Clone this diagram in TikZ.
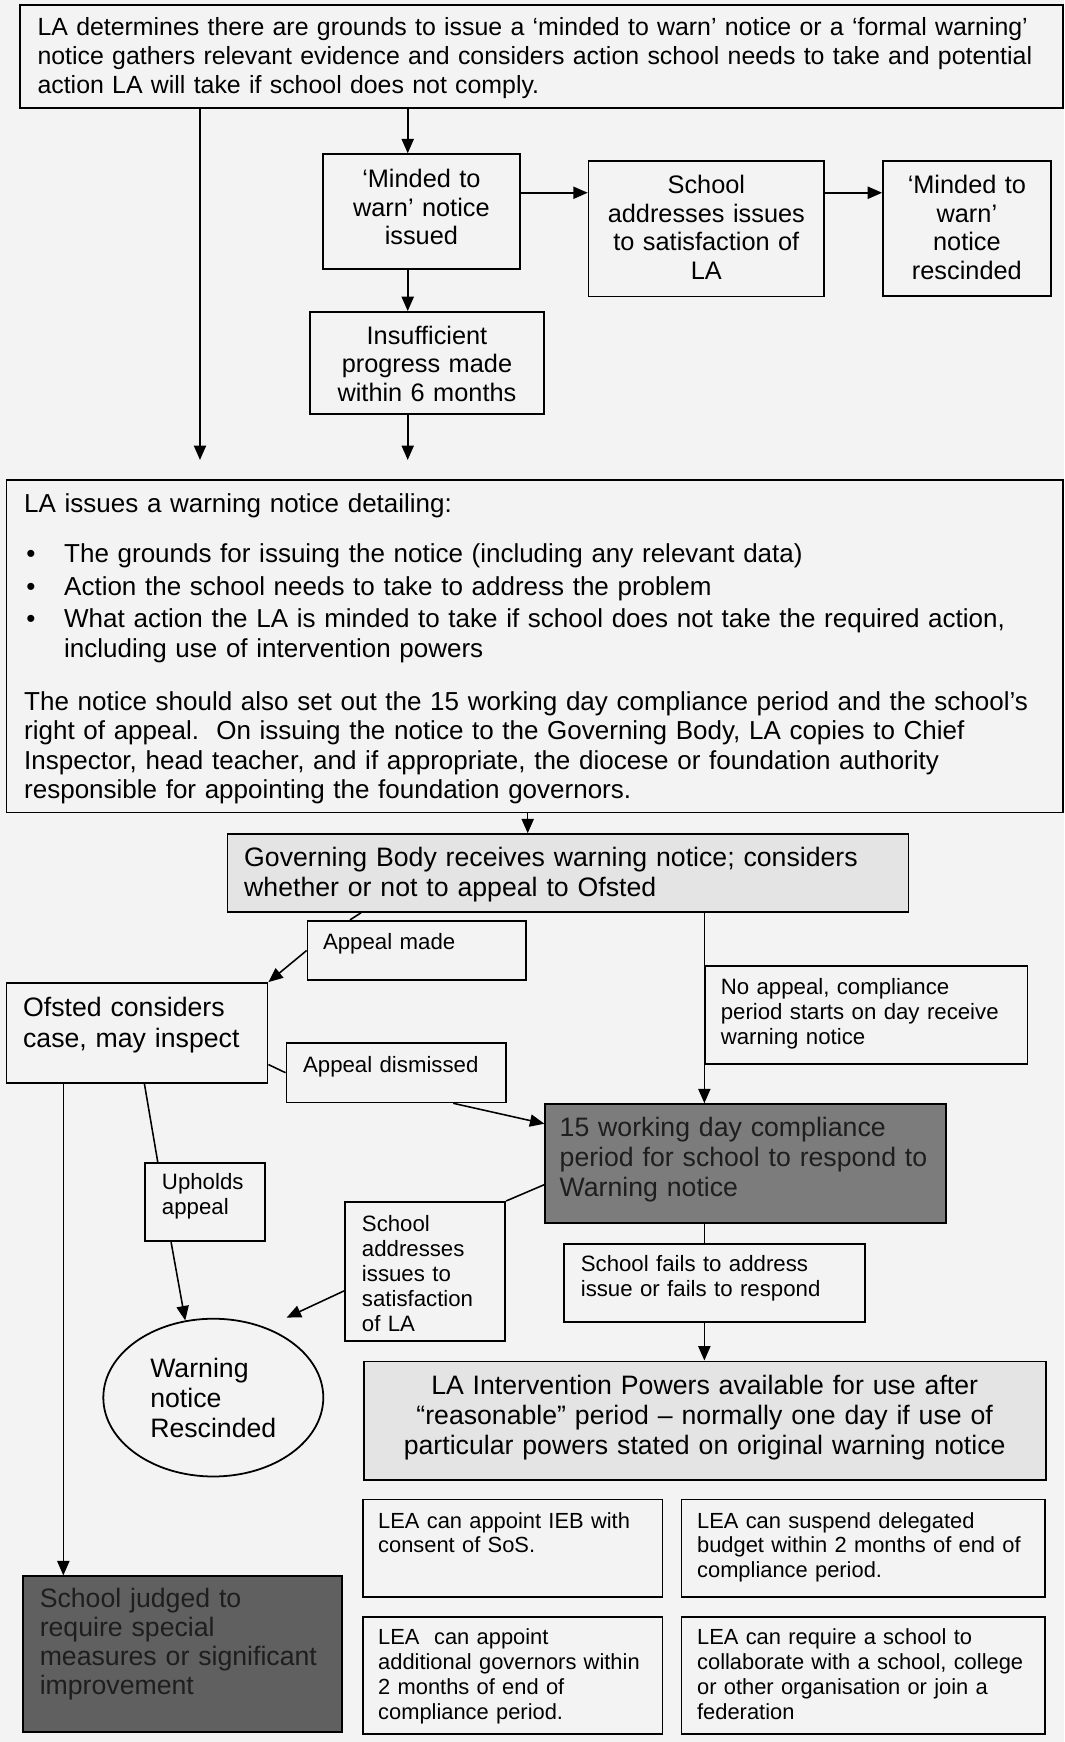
\documentclass[tikz,border=0pt]{standalone}
\usepackage{fontspec}
\setmainfont{Liberation Sans}
\usepackage{xcolor}
\usepackage{tikz}
\usetikzlibrary{arrows.meta,shapes.geometric}
\definecolor{PaperGrey}{HTML}{F3F3F3}
\definecolor{ShadeLight}{HTML}{E4E4E4}
\definecolor{ShadeDark}{HTML}{7C7C7C}
\definecolor{ShadeDeep}{HTML}{606060}
\definecolor{InkDark}{HTML}{1E1E1E}
\newcommand\fsm{\fontsize{20}{22.5}\selectfont}
\newcommand\fmd{\fontsize{22.8}{25.7}\selectfont}
\newcommand\flg{\fontsize{24}{27}\selectfont}
\newcommand\flea{\fontsize{19.7}{22.4}\selectfont}
\newcommand\bul{\makebox[36pt][l]{\hspace{2pt}\textbullet}}

\begin{document}
\begin{tikzpicture}[
  x=1pt, y=-1pt,
  box/.style={draw, line width=1.6pt, anchor=north west, align=left, inner ysep=0pt,
    execute at begin node={\rightskip=0pt minus 60pt\relax}},
  mid/.style={draw, line width=1.6pt, anchor=north west, align=center, inner ysep=0pt, inner xsep=10pt, font=\fmd},
  oval/.style={draw, ellipse, line width=1.6pt, align=left, inner sep=0pt},
  arrow/.style={-{Triangle[length=13pt,width=11pt]}, line width=1.4pt},
  link/.style={line width=1.4pt}
]
\path[use as bounding box, fill=PaperGrey] (0,0) rectangle (958,1568);

\node[box, font=\fontsize{22.4}{25.7}\selectfont, text width=907pt, inner xsep=16pt, text height=28pt, text depth=65pt] (top) at (17,3.6)
  {LA determines there are grounds to issue a ‘minded to warn’ notice or a ‘formal warning’\\notice gathers relevant evidence and considers action school needs to take and potential\\action LA will take if school does not comply.};
\node[mid, text width=157pt, text height=30pt, text depth=73.6pt] (minded) at (290,138)
  {‘Minded to\\warn’ notice\\issued};
\node[mid, text width=192pt, text height=29.5pt, text depth=92.5pt] (fixed) at (529,144)
  {School\\addresses issues\\to satisfaction of\\LA};
\node[mid, text width=131pt, text height=29.5pt, text depth=92pt] (withdrawn) at (794,144)
  {‘Minded to\\warn’\\notice\\rescinded};
\node[mid, text width=191pt, text height=29pt, text depth=63pt] (slow) at (278,280)
  {Insufficient\\progress made\\within 6 months};

\node[box, font=\fontsize{23.4}{26.5}\selectfont, text width=919pt, inner xsep=16pt, text height=29.6pt, text depth=270pt] (notice) at (5,431)
  {LA issues a warning notice detailing:\\[18.5pt]
   \bul The grounds for issuing the notice (including any relevant data)\\[3.5pt]
   \bul Action the school needs to take to address the problem\\[2pt]
   \bul What action the LA is minded to take if school does not take the required action,\\
   \hspace*{36pt}including use of intervention powers\\[21.5pt]
   The notice should also set out the 15 working day compliance period and the school’s\\
   right of appeal.\ \ On issuing the notice to the Governing Body, LA copies to Chief\\
   Inspector, head teacher, and if appropriate, the diocese or foundation authority\\
   responsible for appointing the foundation governors.};

\node[box, fill=ShadeLight, font=\flg, text width=583pt, inner xsep=15pt, text height=28.8pt, text depth=41.2pt] (gov) at (204,750)
  {Governing Body receives warning notice; considers\\whether or not to appeal to Ofsted};
\node[box, font=\fsm, text width=169pt, inner xsep=14pt, text height=26pt, text depth=27.5pt] (appeal) at (276,828)
  {Appeal made};
\node[box, font=\fontsize{24}{28.5}\selectfont, text width=205pt, inner xsep=15pt, text height=30pt, text depth=60pt] (ofsted) at (5,884)
  {Ofsted considers\\case, may inspect};
\node[box, font=\fsm, text width=168pt, inner xsep=15pt, text height=26.5pt, text depth=27pt] (dismissed) at (257,938)
  {Appeal dismissed};
\node[box, font=\fsm, text width=262pt, inner xsep=14pt, text height=25.5pt, text depth=62.5pt] (noappeal) at (634,869)
  {No appeal, compliance\\period starts on day receive\\warning notice};
\node[box, fill=ShadeDark, text=InkDark, font=\flg, text width=335pt, inner xsep=13pt, text height=29pt, text depth=78pt] (comply) at (490,993)
  {15 working day compliance\\period for school to respond to\\Warning notice};
\node[box, font=\fsm, text width=114pt, inner xsep=15pt, text height=26.5pt, text depth=98.5pt] (sorted) at (310,1081)
  {School\\addresses\\issues to\\satisfaction\\of LA};
\node[box, font=\fsm, text width=78pt, inner xsep=15pt, text height=24pt, text depth=46.5pt] (upheld) at (130,1046)
  {Upholds\\appeal};
\node[oval, font=\flg, minimum width=198pt, minimum height=142pt] (rescind) at (192,1258)
  {Warning\\notice\\Rescinded};
\node[box, font=\fsm, text width=241pt, inner xsep=15pt, text height=25.4pt, text depth=45pt] (fails) at (507,1118.6)
  {School fails to address\\issue or fails to respond};
\node[mid, fill=ShadeLight, font=\flg, text width=594pt, text height=30pt, text depth=77pt] (powers) at (326.5,1224.6)
  {LA Intervention Powers available for use after\\“reasonable” period – normally one day if use of\\particular powers stated on original warning notice};
\node[box, fill=ShadeDeep, text=InkDark, font=\fontsize{24}{26}\selectfont, text width=257pt, inner xsep=15pt, text height=28.5pt, text depth=112pt] (judged) at (20,1418)
  {School judged to\\require special\\measures or significant\\improvement};
\node[box, font=\flea, text width=242pt, inner xsep=14pt, text height=25.6pt, text depth=62.4pt] (ieb) at (325.6,1349)
  {LEA can appoint IEB with\\consent of SoS.};
\node[box, font=\flea, text width=299pt, inner xsep=14pt, text height=25.6pt, text depth=62.4pt] (budget) at (612.7,1349)
  {LEA can suspend delegated\\budget within 2 months of end of\\compliance period.};
\node[box, font=\flea, text width=242pt, inner xsep=14pt, text height=24.7pt, text depth=80pt] (governors) at (325.6,1455)
  {LEA\ \ can appoint\\additional governors within\\2 months of end of\\compliance period.};
\node[box, font=\flea, text width=299pt, inner xsep=14pt, text height=24.7pt, text depth=80pt] (collab) at (612.7,1455)
  {LEA can require a school to\\collaborate with a school, college\\or other organisation or join a\\federation};

\coordinate (leftend) at (180,414);
\coordinate (midend) at (367,414);
\coordinate (row) at (0,173.5);
\coordinate (govin) at (475,0);
\coordinate (spine) at (634,0);
\coordinate (tip) at (258,1186);

\draw[arrow] (top.south -| leftend) -- (leftend);
\draw[arrow] (top.south -| midend) -- (minded.north -| midend);
\draw[arrow] (minded.east |- row) -- (fixed.west |- row);
\draw[arrow] (fixed.east |- row) -- (withdrawn.west |- row);
\draw[arrow] (minded.south -| midend) -- (slow.north -| midend);
\draw[arrow] (slow.south -| midend) -- (midend);
\draw[arrow] (notice.south -| govin) -- (gov.north -| govin);
\draw[link] ([xshift=121pt]gov.south west) -- ([xshift=39pt]appeal.north west);
\draw[arrow] (appeal.west) -- (ofsted.north east);
\draw[link] ([yshift=-28.4pt]ofsted.east) -- (dismissed.west);
\draw[arrow] ([xshift=151pt]dismissed.south west) -- ([yshift=-18.5pt]comply.north west);
\draw[arrow] (gov.south -| spine) -- (comply.north -| spine);
\draw[link] ([yshift=-19pt]comply.west) -- (sorted.north east);
\draw[arrow] ([yshift=-17.5pt]sorted.west) -- (tip);
\draw[link] ([xshift=125pt]ofsted.south west) -- ([xshift=12pt]upheld.north west);
\draw[arrow] ([xshift=24pt]upheld.south west) -- (rescind.110);
\draw[arrow] ([xshift=52pt]ofsted.south west) -- ([xshift=37pt]judged.north west);
\draw[link] (comply.south -| spine) -- (fails.north -| spine);
\draw[arrow] (fails.south -| spine) -- (powers.north -| spine);
\end{tikzpicture}
\end{document}
